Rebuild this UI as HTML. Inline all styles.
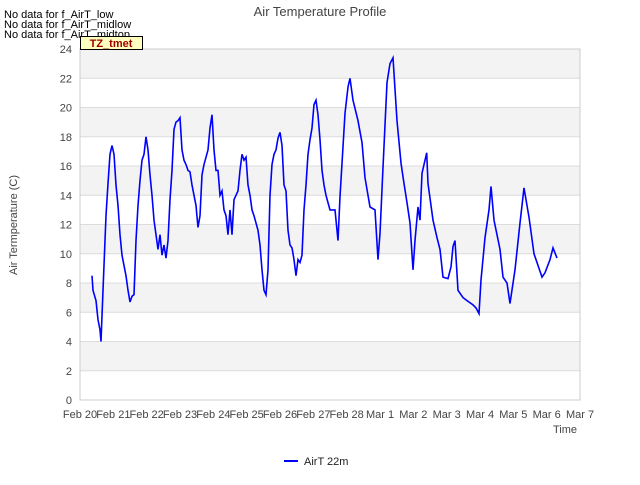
<!DOCTYPE html>
<html><head><meta charset="utf-8"><style>
body{margin:0;background:#fff;font-family:"Liberation Sans",sans-serif}
</style></head><body>
<svg id="c" width="640" height="480" xmlns="http://www.w3.org/2000/svg" style="font-family:'Liberation Sans',sans-serif">
<text x="320" y="16" text-anchor="middle" font-size="13" fill="#444">Air Temperature Profile</text>
<g id="plot"></g>
<text x="4" y="18" font-size="11" fill="#000">No data for f_AirT_low</text>
<text x="4" y="28" font-size="11" fill="#000">No data for f_AirT_midlow</text>
<text x="4" y="38" font-size="11" fill="#000">No data for f_AirT_midtop</text>
<g><rect x="80.5" y="36.5" width="62" height="13" fill="#ffffc0" stroke="#000"/>
<text x="111" y="47" text-anchor="middle" font-size="11" font-weight="bold" fill="#a00000">TZ_tmet</text></g>
<text transform="translate(17,225) rotate(-90)" text-anchor="middle" font-size="11" fill="#444">Air Termperature (C)</text>
<text x="565" y="433" text-anchor="middle" font-size="11" fill="#444">Time</text>
<g><line x1="284" y1="461" x2="298" y2="461" stroke="#0000ff" stroke-width="2"/>
<text x="304" y="465" font-size="11" fill="#222">AirT 22m</text></g>
</svg>
<script>
const yTicks=[0,2,4,6,8,10,12,14,16,18,20,22,24];
const xTickLabels=["Feb 20","Feb 21","Feb 22","Feb 23","Feb 24","Feb 25","Feb 26","Feb 27","Feb 28","Mar 1","Mar 2","Mar 3","Mar 4","Mar 5","Mar 6","Mar 7"];
const days=[0.36,0.39,0.48,0.54,0.6,0.63,0.69,0.78,0.84,0.9,0.96,1.02,1.08,1.14,1.2,1.26,1.32,1.38,1.44,1.5,1.56,1.62,1.68,1.74,1.8,1.86,1.92,1.98,2.04,2.1,2.16,2.22,2.28,2.34,2.4,2.46,2.52,2.58,2.64,2.7,2.76,2.82,2.88,2.94,3.0,3.06,3.12,3.18,3.24,3.3,3.36,3.42,3.48,3.54,3.6,3.66,3.72,3.84,3.9,3.96,4.02,4.08,4.14,4.2,4.26,4.32,4.38,4.44,4.5,4.56,4.62,4.68,4.74,4.8,4.86,4.92,4.98,5.04,5.1,5.16,5.22,5.34,5.4,5.46,5.52,5.58,5.64,5.7,5.76,5.82,5.88,5.94,6.0,6.06,6.12,6.18,6.24,6.3,6.36,6.42,6.48,6.54,6.6,6.66,6.72,6.78,6.84,6.9,6.96,7.02,7.08,7.14,7.2,7.26,7.32,7.38,7.5,7.65,7.74,7.8,7.95,8.04,8.1,8.19,8.34,8.46,8.55,8.7,8.85,8.94,9.0,9.09,9.21,9.3,9.39,9.51,9.63,9.72,9.81,9.9,9.99,10.05,10.14,10.2,10.26,10.4,10.44,10.59,10.71,10.8,10.89,11.04,11.13,11.19,11.25,11.34,11.49,11.61,11.79,11.88,11.97,12.03,12.15,12.27,12.33,12.42,12.6,12.69,12.81,12.9,13.05,13.2,13.32,13.47,13.62,13.71,13.86,13.95,14.1,14.19,14.31];
const airT=[8.5,7.5,6.8,5.5,4.8,4.0,7.5,12.6,14.8,16.8,17.4,16.8,14.7,13.3,11.3,9.9,9.2,8.5,7.5,6.7,7.1,7.2,10.9,13.3,15.0,16.4,16.8,18.0,17.1,15.4,14.0,12.3,11.3,10.3,11.3,9.9,10.6,9.7,10.9,13.7,15.7,18.5,19.0,19.1,19.3,17.1,16.4,16.1,15.7,15.6,14.7,14.0,13.3,11.8,12.6,15.4,16.1,17.1,18.6,19.5,17.1,15.7,15.7,14.0,14.3,13.0,12.6,11.3,13.0,11.3,13.7,14.0,14.3,15.7,16.8,16.4,16.6,14.7,14.0,13.0,12.6,11.6,10.6,8.9,7.5,7.2,8.9,14.0,16.1,16.8,17.1,17.9,18.3,17.4,14.7,14.3,11.6,10.6,10.4,9.6,8.5,9.6,9.4,9.9,13.0,14.7,16.8,17.8,18.6,20.2,20.5,19.5,17.8,15.7,14.7,14.0,13.0,13.0,10.9,13.9,19.6,21.4,22.0,20.5,19.1,17.6,15.2,13.2,13.0,9.6,11.4,15.9,21.7,23.0,23.4,19.1,16.2,14.8,13.5,12.1,8.9,10.9,13.2,12.3,15.5,16.9,14.8,12.3,11.1,10.3,8.4,8.3,9.1,10.5,10.9,7.5,7.0,6.8,6.5,6.3,5.9,8.2,11.1,13.0,14.6,12.3,10.3,8.4,8.0,6.6,8.9,12.1,14.5,12.5,10.0,9.4,8.4,8.7,9.6,10.4,9.7,8.4,7.7];
const X0=80,X1=580,Y0=400,Y1=49;
const xs=d=>X0+d*(X1-X0)/15, ys=v=>Y0-v*(Y0-Y1)/24;
const NS="http://www.w3.org/2000/svg", g=document.getElementById('plot');
function mk(t,a){const e=document.createElementNS(NS,t);for(const k in a)e.setAttribute(k,a[k]);g.appendChild(e);return e;}
for(let i=0;i<yTicks.length-1;i++){if(i%2===1){const r=mk('rect',{x:X0,y:ys(yTicks[i+1]),width:X1-X0,height:ys(yTicks[i])-ys(yTicks[i+1]),fill:'#f3f3f3'});

}}
yTicks.forEach(v=>{const l=mk('line',{x1:X0,x2:X1,y1:ys(v),y2:ys(v),stroke:'#dcdcdc'});


const t=mk('text',{x:X0-8,y:ys(v)+4,'text-anchor':'end','font-size':11,fill:'#444'});t.textContent=v;

});
const b=mk('rect',{x:X0,y:Y1,width:X1-X0,height:Y0-Y1,fill:'none',stroke:'#ccc'});


xTickLabels.forEach((s,i)=>{const t=mk('text',{x:xs(i),y:418,'text-anchor':'middle','font-size':11,fill:'#444'});t.textContent=s;

});
const p=mk('path',{d:days.map((d,i)=>(i?'L':'M')+xs(d).toFixed(1)+','+ys(airT[i]).toFixed(1)).join(''),fill:'none',stroke:'#0000ff','stroke-width':1.6});


</script>
</body></html>
